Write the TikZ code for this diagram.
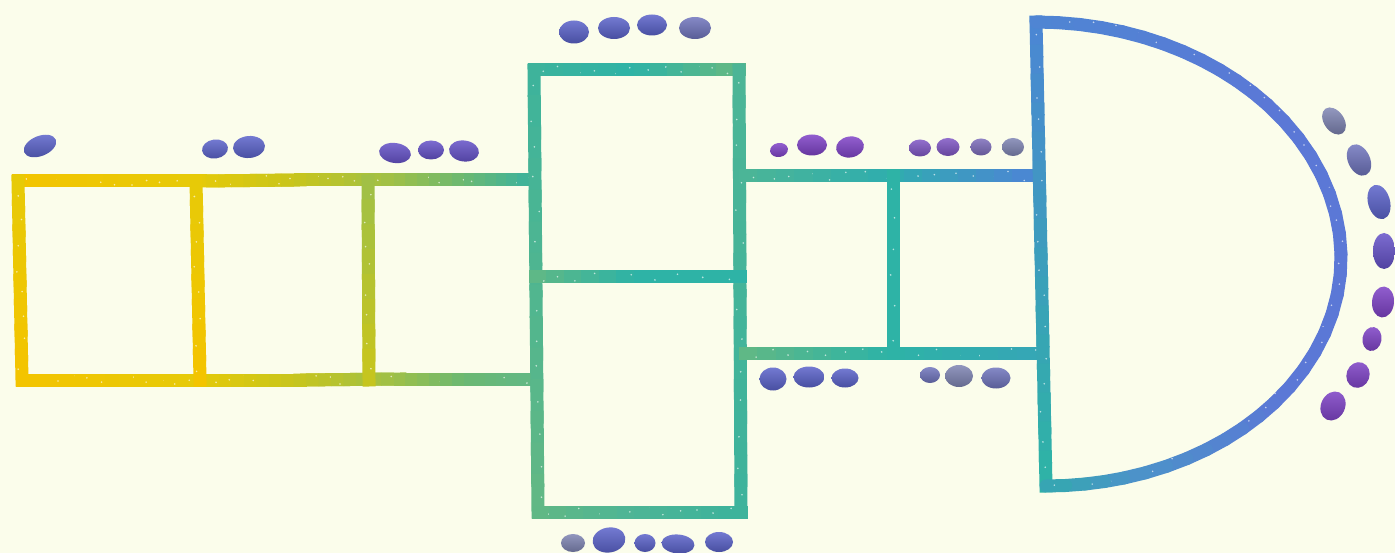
\documentclass[tikz,border=0pt]{standalone}
\usepackage{xcolor}
\definecolor{bg}{HTML}{FBFDEB}
\definecolor{cY0}{HTML}{F4C400}
\definecolor{cY1}{HTML}{E6CA08}
\definecolor{cY2}{HTML}{C8C51C}
\definecolor{cG1}{HTML}{9EC048}
\definecolor{cG2}{HTML}{6BB872}
\definecolor{cT0}{HTML}{3DB39C}
\definecolor{cTy}{HTML}{62B884}
\definecolor{cTm}{HTML}{4DB596}
\definecolor{cT1}{HTML}{2EB3A6}
\definecolor{cT2}{HTML}{2FAEAE}
\definecolor{cBl}{HTML}{4C86D4}
\definecolor{cBt}{HTML}{35A6B6}
\definecolor{cArcA}{HTML}{4E86D3}
\definecolor{cArcB}{HTML}{5B78D6}
\definecolor{cArcC}{HTML}{4B94C8}
\definecolor{cArcD}{HTML}{34A8B0}
% blob colours
\definecolor{bBlue}{HTML}{5A62C9}
\definecolor{bViol}{HTML}{6552C8}
\definecolor{bPurp}{HTML}{7E42C6}
\definecolor{bPurq}{HTML}{7F56C4}
\definecolor{bMauve}{HTML}{7C6CBA}
\definecolor{bGrey}{HTML}{7E84B2}
\definecolor{bSlate}{HTML}{6F74BC}
\newcommand\gseg[7]{%
  \foreach \i in {1,...,#7}{%
    \pgfmathsetmacro\ta{(\i-1)/#7}\pgfmathsetmacro\tb{\i/#7}%
    \pgfmathsetmacro\pp{100*(\i-0.5)/#7}%
    \colorlet{wc}{#6!\pp!#5}%
    \draw[wall,draw=wc] ({#1+(#3-#1)*\ta},{#2+(#4-#2)*\ta}) -- ({#1+(#3-#1)*\tb},{#2+(#4-#2)*\tb});
    \fill[speck] ({#1+(#3-#1)*(\ta+\tb)/2+4*rand},{#2+(#4-#2)*(\ta+\tb)/2+4.5*rand}) circle (0.9);}}
% arc point: sheared half ellipse from (1036,22) to (1046,486)
\newcommand\garc[5]{%
  \foreach \i in {1,...,#5}{%
    \pgfmathsetmacro\ta{#1+(#2-#1)*(\i-1)/#5}\pgfmathsetmacro\tb{#1+(#2-#1)*\i/#5}%
    \pgfmathsetmacro\pp{100*(\i-0.5)/#5}%
    \colorlet{wc}{#4!\pp!#3}%
    \draw[arcwall,draw=wc] ({1041-5*sin(\ta)+300*cos(\ta)},{254-232*sin(\ta)}) -- ({1041-5*sin(\tb)+300*cos(\tb)},{254-232*sin(\tb)});
    \fill[speck] ({1041+300*cos((\ta+\tb)/2)+4*rand},{254-232*sin((\ta+\tb)/2)+4*rand}) circle (0.9);}}
\newcommand\blob[6]{% x y rx ry rot colour
  \shade[top color=#6!85!white,bottom color=#6!80!black,rotate around={#5:(#1,#2)}] (#1,#2) ellipse [x radius=#3,y radius=#4];}
\begin{document}
\begin{tikzpicture}[x=1pt,y=-1pt,
  wall/.style={line width=13pt,line cap=rect},
  arcwall/.style={line width=13pt,line cap=round},
  speck/.style={white,opacity=0.65}]
\pgfmathsetseed{7}
\fill[bg] (0,0) rectangle (1395,553);
\useasboundingbox (0,0) rectangle (1395,553);
% ---- left block
\gseg{18}{181}{200}{181}{cY0}{cY1}{12}
\gseg{200}{181}{300}{180}{cY1}{cY2}{8}
\gseg{300}{180}{400}{180}{cY2}{cG1}{8}
\gseg{400}{180}{470}{180}{cG1}{cG2}{6}
\gseg{470}{180}{534}{180}{cG2}{cT0}{6}
\gseg{22}{380}{200}{380}{cY0}{cY1}{12}
\gseg{200}{380}{300}{380}{cY1}{cY2}{8}
\gseg{300}{380}{400}{379}{cY2}{cG1}{8}
\gseg{400}{379}{470}{379}{cG1}{cG2}{6}
\gseg{470}{379}{534}{379}{cG2}{cTy}{6}
\gseg{18}{181}{22}{380}{cY1}{cY0}{8}
\gseg{196}{181}{200}{380}{cY1}{cY0}{8}
\gseg{368}{181}{369}{380}{cG1}{cY2}{8}
% ---- central box
\gseg{534}{70}{640}{70}{cT0}{cT1}{6}
\gseg{640}{70}{739}{70}{cT1}{cTy}{6}
\gseg{534}{70}{538}{512}{cT0}{cTy}{14}
\gseg{739}{70}{741}{512}{cTm}{cT0}{14}
\gseg{535}{277}{640}{277}{cTy}{cT1}{6}
\gseg{640}{277}{740}{277}{cT1}{cT1}{4}
\gseg{538}{512}{640}{512}{cTy}{cTm}{6}
\gseg{640}{512}{741}{512}{cTm}{cT0}{6}
% ---- right corridor
\gseg{745}{176}{893}{176}{cTm}{cT2}{8}
\gseg{893}{176}{1036}{176}{cT2}{cBl}{8}
\gseg{745}{353}{893}{353}{cTy}{cT1}{8}
\gseg{893}{353}{1042}{353}{cT1}{cBt}{8}
\gseg{893}{176}{893}{353}{cT1}{cT1}{6}
% ---- D room
\gseg{1036}{22}{1046}{486}{cBl}{cT1}{16}
\garc{90}{40}{cArcA}{cArcB}{12}
\garc{40}{-40}{cArcB}{cArcB}{16}
\garc{-40}{-75}{cArcB}{cArcC}{8}
\garc{-75}{-90}{cArcC}{cArcD}{4}
% ---- blobs: left block
\blob{40}{146}{17}{10}{22}{bBlue}
\blob{215}{149}{13}{9.5}{8}{bBlue}
\blob{249}{147}{16}{11}{5}{bBlue}
\blob{395}{153}{16}{10}{-8}{bViol}
\blob{431}{150}{13}{9.5}{0}{bViol}
\blob{464}{151}{15}{10.5}{-8}{bViol}
% ---- central top / bottom
\blob{574}{32}{15}{11.5}{0}{bBlue}
\blob{614}{28}{16}{11}{0}{bBlue}
\blob{652}{25}{15}{10.5}{0}{bBlue}
\blob{695}{28}{16}{11}{0}{bSlate}
\blob{573}{543}{12}{9}{0}{bGrey}
\blob{609}{540}{16.5}{12.5}{10}{bBlue}
\blob{645}{543}{10.5}{9}{0}{bBlue}
\blob{678}{544}{16.5}{9.5}{-5}{bBlue}
\blob{719}{542}{14}{10}{0}{bBlue}
% ---- right corridor
\blob{779}{150}{9}{7}{10}{bPurp}
\blob{812}{145}{15}{10.5}{0}{bPurp}
\blob{850}{147}{14}{10.5}{10}{bPurp}
\blob{920}{148}{11}{8.5}{0}{bPurq}
\blob{948}{147}{11.5}{9}{0}{bPurq}
\blob{981}{147}{10.5}{8.5}{0}{bMauve}
\blob{1013}{147}{11}{9}{0}{bGrey}
\blob{773}{379}{13.5}{11.5}{0}{bBlue}
\blob{809}{377}{15.5}{10.5}{0}{bBlue}
\blob{845}{378}{13.5}{9.5}{0}{bBlue}
\blob{930}{375}{10}{8}{0}{bSlate}
\blob{959}{376}{14}{11}{0}{bGrey}
\blob{996}{378}{14.5}{10.5}{0}{bSlate}
% ---- around the arc
\blob{1334}{121}{10}{15}{35}{bGrey}
\blob{1359}{160}{11}{16.5}{25}{bSlate}
\blob{1379}{202}{11}{17.5}{15}{bBlue}
\blob{1384}{251}{11}{18}{0}{bViol}
\blob{1383}{302}{11}{15.5}{-5}{bPurp}
\blob{1372}{339}{9.5}{12}{-10}{bPurp}
\blob{1358}{375}{11.5}{13}{-20}{bPurp}
\blob{1333}{406}{12}{15}{-25}{bPurp}
\end{tikzpicture}
\end{document}
